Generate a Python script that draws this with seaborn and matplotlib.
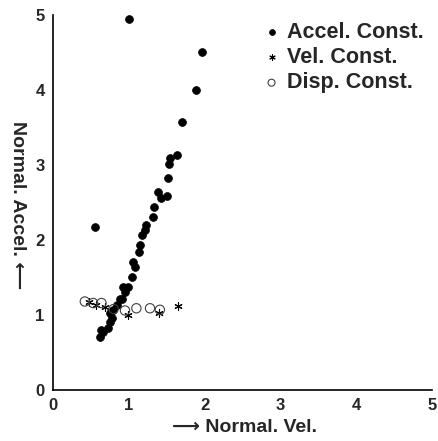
import numpy as np
import matplotlib
matplotlib.use("Agg")
import matplotlib.pyplot as plt
import seaborn as sns

# dados
accel_x = [1.00, 1.96, 1.89, 1.70, 1.63, 1.54, 1.53, 1.52, 1.51, 1.43, 1.39, 1.33, 1.32,
           1.23, 1.21, 1.18, 1.15, 1.14, 1.08, 1.05, 1.04, 0.99, 0.93, 0.95, 0.91, 0.55,
           0.88, 0.84, 0.79, 0.75, 0.78, 0.75, 0.72, 0.66, 0.62, 0.63]
accel_y = [4.94, 4.51, 4.00, 3.58, 3.13, 3.09, 3.02, 2.83, 2.59, 2.56, 2.64, 2.44, 2.31,
           2.20, 2.13, 2.07, 1.93, 1.84, 1.64, 1.71, 1.51, 1.38, 1.38, 1.31, 1.22, 2.18,
           1.22, 1.13, 1.07, 1.03, 0.96, 0.91, 0.83, 0.77, 0.71, 0.80]

vel_x = [0.47, 0.57, 0.68, 0.76, 0.99, 1.40, 1.65]
vel_y = [1.17, 1.14, 1.11, 1.06, 1.00, 1.03, 1.12]

disp_x = [0.42, 0.53, 0.64, 0.80, 0.95, 1.10, 1.28, 1.41]
disp_y = [1.18, 1.16, 1.16, 1.08, 1.06, 1.09, 1.09, 1.07]

ticks = [0, 1, 2, 3, 4, 5]

FONT = ["Liberation Sans", "DejaVu Sans"]


def plot_scatter():
    sns.set_style("white")
    plt.rcParams["font.family"] = FONT
    plt.rcParams["font.weight"] = "bold"

    fig = plt.figure(figsize=(4.39, 4.41), dpi=100)
    ax = fig.add_axes([0.1207, 0.1156, 0.8633, 0.8504])

    sns.scatterplot(x=accel_x, y=accel_y, ax=ax, color="black", marker="o", s=32,
                    edgecolor="black", linewidth=0.5, label="Accel. Const.")
    sns.scatterplot(x=vel_x, y=vel_y, ax=ax, color="black", marker=(6, 2, 0), s=28,
                    linewidth=0.8, label="Vel. Const.")
    sns.scatterplot(x=disp_x, y=disp_y, ax=ax, marker="o", s=45, facecolor="none",
                    edgecolor="0.25", linewidth=0.8, label="Disp. Const.")

    ax.set_xlim(0, 5)
    ax.set_ylim(0, 5)
    ax.set_xticks(ticks)
    ax.set_yticks(ticks)
    ax.set_xticklabels([str(t) for t in ticks], fontsize=12, fontweight="bold")
    ax.set_yticklabels([str(t) for t in ticks], fontsize=12, fontweight="bold")
    ax.tick_params(direction="in", length=3, width=1.0, pad=6)

    sns.despine(ax=ax)
    for s in ["left", "bottom"]:
        ax.spines[s].set_linewidth(1.2)
        ax.spines[s].set_color("black")

    ax.set_xlabel("")
    ax.set_ylabel("")
    # rotulos dos eixos como texto da figura
    fig.text(0.558, 0.030, "\u27f6 Normal. Vel.", fontsize=14, fontweight="bold",
             ha="center", va="center")
    fig.text(0.041, 0.535, "Normal. Accel. \u27f5", fontsize=14, fontweight="bold",
             rotation=270, ha="center", va="center")

    leg = ax.legend(loc="upper right", bbox_to_anchor=(1.0, 1.005), frameon=False,
                    fontsize=15.5, handletextpad=0.2, labelspacing=0.2,
                    handlelength=1.0, borderaxespad=0.0, markerscale=0.75)
    for t in leg.get_texts():
        t.set_fontweight("bold")

    plt.savefig("out.png", dpi=100)


def main():
    plot_scatter()


if __name__ == '__main__':
    main()
